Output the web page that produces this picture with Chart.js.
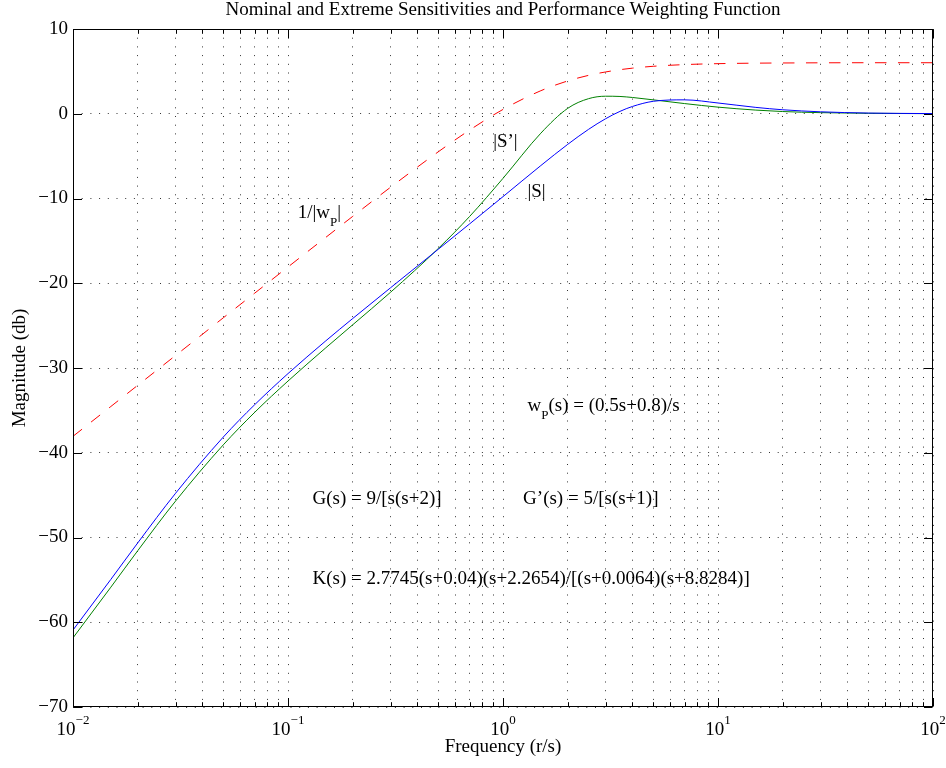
<!DOCTYPE html>
<html>
<head>
<meta charset="utf-8">
<script src="https://cdn.jsdelivr.net/npm/chart.js@4.4.1/dist/chart.umd.min.js"></script>
<style>
  html, body { margin: 0; padding: 0; background: #ffffff; }
  canvas { display: block; }
</style>
</head>
<body>
<canvas id="chart" width="946" height="768"></canvas>
<script>
// Frequencies (rad/s) at which the magnitudes are sampled
const freq = [0.01, 0.015, 0.02, 0.03, 0.05, 0.07, 0.1, 0.15, 0.2, 0.3, 0.5, 0.7,
              1, 1.5, 2, 2.5, 3, 3.5, 4, 5, 7, 10, 15, 20, 30, 50, 100];

// 1/|wP| in dB
const invWp = [-38.06, -34.54, -32.04, -28.52, -24.08, -21.17, -18.08, -14.58, -12.11, -8.67, -4.49, -1.92,
               0.51, 2.72, 3.87, 4.53, 4.93, 5.20, 5.38, 5.60, 5.80, 5.91, 5.97, 5.99, 6.01, 6.02, 6.02];

// |S| nominal sensitivity in dB
const sNominal = [-60.92, -54.94, -50.64, -44.78, -38.15, -34.33, -30.66, -26.79, -24.16, -20.53, -15.99, -12.99,
                  -9.78, -6.11, -3.61, -1.84, -0.59, 0.28, 0.86, 1.47, 1.64, 1.27, 0.75, 0.47, 0.23, 0.08, 0.02];

// |S'| extreme sensitivity in dB
const sExtreme = [-61.84, -55.86, -51.56, -45.70, -39.07, -35.23, -31.54, -27.61, -24.90, -21.06, -15.90, -12.11,
                  -7.62, -2.29, 0.64, 1.78, 2.07, 2.04, 1.92, 1.64, 1.20, 0.78, 0.43, 0.26, 0.13, 0.05, 0.01];

// Axis ticks
const yTicks = [-70, -60, -50, -40, -30, -20, -10, 0, 10];
const xDecades = [0.01, 0.1, 1, 10, 100];
const xDecadeExp = ['\u22122', '\u22121', '0', '1', '2'];

const titleText = 'Nominal and Extreme Sensitivities and Performance Weighting Function';
const xTitleText = 'Frequency (r/s)';
const yTitleText = 'Magnitude (db)';

// Minor log positions 2..9 within each decade
const xMinor = [];
for (let d = 0; d < xDecades.length - 1; d++) {
  for (let m = 2; m <= 9; m++) xMinor.push(+(xDecades[d] * m).toPrecision(3));
}
const xGridValues = xDecades.concat(xMinor).sort((a, b) => a - b);

const FONT = '"Liberation Serif", "Times New Roman", Times, serif';

// Text labels placed inside the axes (data coordinates, left edge / baseline)
const notes = [
  { x: 0.9,   y: -3.9,  parts: [['|S\u2019|']] },
  { x: 1.3,   y: -9.8,  parts: [['|S|']] },
  { x: 0.111, y: -12.3, parts: [['1/|w'], ['P', 'sub'], ['|']] },
  { x: 1.3,   y: -35.1, parts: [['w'], ['P', 'sub'], ['(s) = (0.5s+0.8)/s']] },
  { x: 0.13,  y: -46.0, parts: [['G(s) = 9/[s(s+2)]']] },
  { x: 1.24,  y: -46.0, parts: [['G\u2019(s) = 5/[s(s+1)]']] },
  { x: 0.13,  y: -55.5, parts: [['K(s) = 2.7745(s+0.04)(s+2.2654)/[(s+0.0064)(s+8.8284)]']] }
];

const toPoints = (ys) => freq.map((f, i) => ({ x: f, y: ys[i] }));

const axesDecor = {
  id: 'axesDecor',
  afterDraw(chart) {
    const ctx = chart.ctx;
    const xs = chart.scales.x, ys = chart.scales.y;
    const { left, right, top, bottom } = chart.chartArea;
    const L = Math.round(left) + 0.5, R = Math.round(right) - 0.5;
    const T = Math.round(top) + 0.5, B = Math.round(bottom) - 0.5;
    ctx.save();
    ctx.setLineDash([]);
    ctx.strokeStyle = '#000';
    ctx.lineWidth = 1;

    // axes box
    ctx.strokeRect(L, T, R - L, B - T);

    // inward tick marks
    ctx.beginPath();
    const major = 8.5, minor = 4.3;
    xDecades.forEach(v => {
      const px = Math.round(xs.getPixelForValue(v)) + 0.5;
      ctx.moveTo(px, B); ctx.lineTo(px, B - major);
      ctx.moveTo(px, T); ctx.lineTo(px, T + major);
    });
    xMinor.forEach(v => {
      const px = Math.round(xs.getPixelForValue(v)) + 0.5;
      ctx.moveTo(px, B); ctx.lineTo(px, B - minor);
      ctx.moveTo(px, T); ctx.lineTo(px, T + minor);
    });
    yTicks.forEach(v => {
      const py = Math.round(ys.getPixelForValue(v)) + 0.5;
      ctx.moveTo(L, py); ctx.lineTo(L + major, py);
      ctx.moveTo(R, py); ctx.lineTo(R - major, py);
    });
    ctx.stroke();

    ctx.fillStyle = '#000';

    // y tick labels
    ctx.font = '19px ' + FONT;
    ctx.textAlign = 'right';
    ctx.textBaseline = 'middle';
    yTicks.forEach(v => {
      const label = v < 0 ? '\u2212' + Math.abs(v) : String(v);
      ctx.fillText(label, left - 5, ys.getPixelForValue(v));
    });

    // x tick labels: 10 with superscript exponent
    ctx.textAlign = 'left';
    ctx.textBaseline = 'alphabetic';
    xDecades.forEach((v, i) => {
      const px = xs.getPixelForValue(v);
      ctx.font = '19px ' + FONT;
      const wBase = ctx.measureText('10').width;
      ctx.font = '13px ' + FONT;
      const wExp = ctx.measureText(xDecadeExp[i]).width;
      const x0 = px - (wBase + wExp) / 2;
      ctx.font = '19px ' + FONT;
      ctx.fillText('10', x0, bottom + 28);
      ctx.font = '13px ' + FONT;
      ctx.fillText(xDecadeExp[i], x0 + wBase, bottom + 17);
    });

    // axis titles and chart title
    ctx.font = '19px ' + FONT;
    ctx.textAlign = 'center';
    ctx.fillText(xTitleText, (left + right) / 2, bottom + 45);
    ctx.fillText(titleText, (left + right) / 2, 15);
    ctx.save();
    ctx.translate(25, (top + bottom) / 2);
    ctx.rotate(-Math.PI / 2);
    ctx.fillText(yTitleText, 0, 0);
    ctx.restore();

    // in-plot text
    ctx.textAlign = 'left';
    notes.forEach(n => {
      let x = xs.getPixelForValue(n.x);
      const y = ys.getPixelForValue(n.y);
      n.parts.forEach(([t, kind]) => {
        const sub = kind === 'sub';
        ctx.font = (sub ? '13px ' : '19px ') + FONT;
        ctx.fillText(t, x, sub ? y + 8 : y);
        x += ctx.measureText(t).width;
      });
    });
    ctx.restore();
  }
};

new Chart(document.getElementById('chart'), {
  type: 'line',
  data: {
    datasets: [
      {
        label: '|S|',
        data: toPoints(sNominal),
        borderColor: '#0000ff',
        borderWidth: 1,
        pointRadius: 0,
        cubicInterpolationMode: 'monotone',
        fill: false
      },
      {
        label: '|S\u2019|',
        data: toPoints(sExtreme),
        borderColor: '#008000',
        borderWidth: 1,
        pointRadius: 0,
        cubicInterpolationMode: 'monotone',
        fill: false
      },
      {
        label: '1/|wP|',
        data: toPoints(invWp),
        borderColor: '#ff0000',
        borderWidth: 1,
        borderDash: [11.5, 11.5],
        pointRadius: 0,
        cubicInterpolationMode: 'monotone',
        fill: false
      }
    ]
  },
  options: {
    responsive: false,
    devicePixelRatio: 1,
    animation: false,
    layout: { padding: { left: 73, right: 13, top: 29, bottom: 61 } },
    plugins: {
      legend: { display: false },
      title: { display: false },
      tooltip: { enabled: false }
    },
    scales: {
      x: {
        type: 'logarithmic',
        min: 0.01,
        max: 100,
        afterBuildTicks: (scale) => { scale.ticks = xGridValues.map(v => ({ value: v })); },
        ticks: { display: false },
        grid: { color: 'rgba(0,0,0,0.8)', lineWidth: 1, drawTicks: false },
        border: { display: false, dash: [1, 7.7] }
      },
      y: {
        type: 'linear',
        min: -70,
        max: 10,
        afterBuildTicks: (scale) => { scale.ticks = yTicks.map(v => ({ value: v })); },
        ticks: { display: false },
        grid: { color: 'rgba(0,0,0,0.8)', lineWidth: 1, drawTicks: false },
        border: { display: false, dash: [1, 7.7] }
      }
    }
  },
  plugins: [axesDecor]
});
</script>
</body>
</html>
